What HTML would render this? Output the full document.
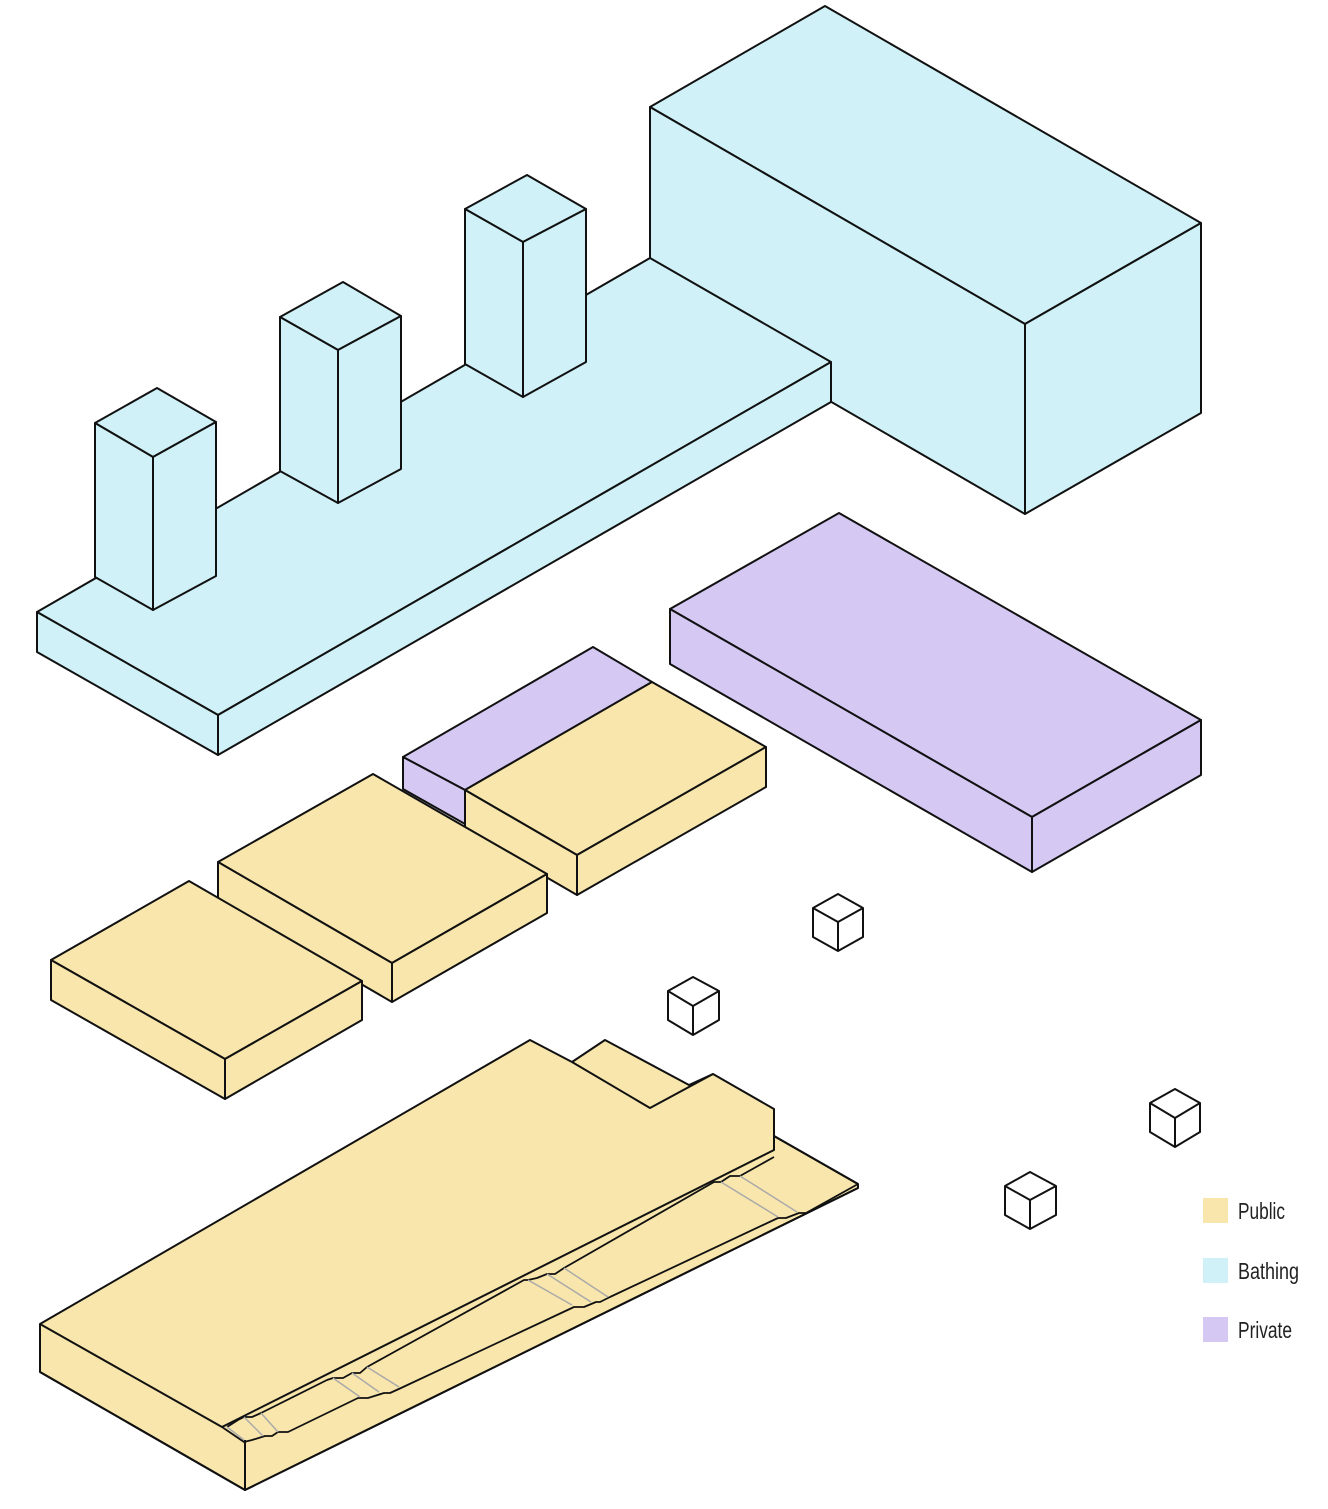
<!DOCTYPE html>
<html><head><meta charset="utf-8"><style>
html,body{margin:0;padding:0;background:#fff}
svg{display:block}
text{font-family:"Liberation Sans Narrow","Liberation Sans",sans-serif;font-size:23px;fill:#222}
</style></head><body>
<svg width="1328" height="1509" viewBox="0 0 1328 1509" xmlns="http://www.w3.org/2000/svg">
<g stroke="#111" stroke-width="2" stroke-linejoin="round" fill="#CFF1F7">
<polygon points="650,107 825,6 1201,223 1025,324"/>
<polygon points="650,107 1025,324 1025,514 650,297"/>
<polygon points="1025,324 1201,223 1201,413 1025,514"/>
<polygon points="37,612 650,258 831,362 218,715"/>
<polygon points="218,715 831,362 831,402 218,755"/>
<polygon points="37,612 218,715 218,755 37,652"/>
<polygon points="465,209 527,175 586,209 523,242"/>
<polygon points="465,209 523,242 523,397 465,364"/>
<polygon points="523,242 586,209 586,362 523,397"/>
<polygon points="280,317 343,282 401,316 338,350"/>
<polygon points="280,317 338,350 338,503 280,471"/>
<polygon points="338,350 401,316 401,469 338,503"/>
<polygon points="95,423 157,388 216,422 153,457"/>
<polygon points="95,423 153,457 153,610 95,577"/>
<polygon points="153,457 216,422 216,576 153,610"/>
</g>
<g stroke="#111" stroke-width="2" stroke-linejoin="round" fill="#D5C8F3">
<polygon points="670,609 839,513 1201,720 1032,817"/>
<polygon points="670,609 1032,817 1032,872 670,664"/>
<polygon points="1032,817 1201,720 1201,775 1032,872"/>
<polygon points="403,757 593,647 652,682 465,790"/>
<polygon points="403,757 465,790 465,824 403,789"/>
</g>
<g stroke="#111" stroke-width="2" stroke-linejoin="round" fill="#F8E6AC">
<polygon points="465,790 652,682 766,747 577,855"/>
<polygon points="465,790 577,855 577,895 465,830"/>
<polygon points="577,855 766,747 766,787 577,895"/>
<polygon points="218,862 373,774 547,874 392,963"/>
<polygon points="218,862 392,963 392,1002 218,901"/>
<polygon points="392,963 547,874 547,913 392,1002"/>
<polygon points="51,960 189,881 362,981 225,1059"/>
<polygon points="51,960 225,1059 225,1099 51,1000"/>
<polygon points="225,1059 362,981 362,1020 225,1099"/>
<polygon points="40,1324 530,1040 572,1062 605,1040 689,1085 713,1074 774,1109 774,1136 858,1184 858,1188 245,1490 40,1372"/>
<polyline fill="none" points="40,1324 222,1427"/>
<polyline fill="none" points="572,1062 650,1108 713,1074"/>
<polyline fill="none" points="774,1109 774,1150 222,1427"/>
<polyline fill="none" points="245,1440 245,1490"/>
<polyline fill="none" points="40,1372 245,1490 858,1188"/>
<polyline fill="none" points="774,1136 858,1184"/>
<polyline fill="none" stroke-width="1.8" points="222,1427 244,1442 252,1440 265,1436 272,1436 278,1432 288,1432 358,1398 368,1398 384,1393 390,1393 401,1388 574,1307 584,1307 596,1302 600,1302 610,1297 778,1218 786,1218 799,1213 806,1213 858,1184"/>
<polyline fill="none" stroke-width="1.8" points="227,1427 238,1420 244,1417 252,1417 261,1413 327,1380 333,1378 343,1378 352,1373 360,1373 367,1367 524,1280 528,1280 537,1278 547,1274 555,1274 564,1268 714,1182 721,1182 730,1176 740,1176 774,1157"/>
</g>
<g stroke="#aaa" stroke-width="1.5" fill="none">
<line x1="227" y1="1427" x2="244" y2="1440"/><line x1="244" y1="1417" x2="263" y2="1436"/><line x1="261" y1="1413" x2="278" y2="1432"/>
<line x1="333" y1="1378" x2="360" y2="1397"/><line x1="352" y1="1373" x2="379" y2="1392"/><line x1="367" y1="1367" x2="399" y2="1387"/>
<line x1="528" y1="1280" x2="572" y2="1305"/><line x1="547" y1="1274" x2="591" y2="1302"/><line x1="564" y1="1268" x2="608" y2="1297"/>
<line x1="721" y1="1182" x2="778" y2="1217"/><line x1="740" y1="1176" x2="797" y2="1212"/>
</g>
<g stroke="#111" stroke-width="2" stroke-linejoin="round" fill="#fff">
<g transform="translate(813,894)"><polygon points="25,0 50,14 50,43 25,57 0,43 0,14"/><polyline fill="none" points="0,14 25,28 50,14"/><line x1="25" y1="28" x2="25" y2="57"/></g>
<g transform="translate(668,977)"><polygon points="25,0 51,14 51,43 25,58 0,43 0,14"/><polyline fill="none" points="0,14 25,29 51,14"/><line x1="25" y1="29" x2="25" y2="58"/></g>
<g transform="translate(1150,1089)"><polygon points="25,0 50,14 50,43 25,58 0,43 0,14"/><polyline fill="none" points="0,14 25,29 50,14"/><line x1="25" y1="29" x2="25" y2="58"/></g>
<g transform="translate(1005,1172)"><polygon points="25,0 51,14 51,43 25,57 0,43 0,14"/><polyline fill="none" points="0,14 25,28 51,14"/><line x1="25" y1="28" x2="25" y2="57"/></g>
</g>
<rect x="1203" y="1198" width="25" height="25" fill="#F8E6AC"/>
<rect x="1203" y="1258" width="25" height="25" fill="#CFF1F7"/>
<rect x="1203" y="1317" width="25" height="25" fill="#D5C8F3"/>
<text x="1238" y="1219" textLength="47" lengthAdjust="spacingAndGlyphs">Public</text>
<text x="1238" y="1279" textLength="61" lengthAdjust="spacingAndGlyphs">Bathing</text>
<text x="1238" y="1338" textLength="54" lengthAdjust="spacingAndGlyphs">Private</text>
</svg>
</body></html>
